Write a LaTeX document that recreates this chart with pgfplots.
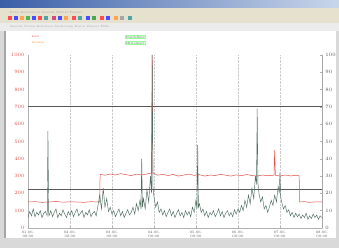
\documentclass[border=0pt]{standalone}
\usepackage{pgfplots}
\pgfplotsset{compat=1.18}
\definecolor{tbar}{HTML}{3A5FA8}
\definecolor{tbarl}{HTML}{C8D6EA}
\definecolor{menu}{HTML}{E6E0CF}
\definecolor{redser}{HTML}{E2504A}
\definecolor{grnser}{HTML}{4F6E60}
\definecolor{thr}{HTML}{5A5A5A}
\begin{document}
\begin{tikzpicture}[x=1pt,y=1pt]
% window
\fill[gray!30] (0,0) rectangle (339,248);
\fill[white] (6,10) rectangle (336,217);
\draw[gray!70,line width=1.2pt] (5,10) -- (5,217);
\shade[left color=tbar,right color=tbarl] (0,240) rectangle (339,248);
\fill[menu] (0,225) rectangle (339,240);
\fill[gray!15] (0,217) rectangle (339,225);
\foreach \i/\c in {8/red,14/blue,20/orange,26/green!60!black,32/blue,38/red,44/teal,52/purple,58/blue,64/orange,72/red,78/teal,86/blue,92/green!50!black,100/red,106/blue,114/orange,120/gray,128/teal}{
  \fill[\c!70] (\i,228) rectangle (\i+4,232);}
\node[font=\fontsize{3}{3}\selectfont,text=gray!70,anchor=west] at (6,221) {Ansicht  Daten  Zeitraum  Skalierung  Kurve  Export  Hilfe};
\node[font=\fontsize{3}{3}\selectfont,text=gray!70,anchor=west] at (6,236) {Datei  Bearbeiten  Ansicht  Extras  Fenster};
% legend texts
\node[font=\fontsize{3}{3}\selectfont,text=redser,anchor=west] at (28,211) {Last};
\node[font=\fontsize{3}{3}\selectfont,text=orange,anchor=west] at (28,206) {Grenze};
\node[font=\fontsize{3}{3}\selectfont,text=grnser,fill=green!8,draw=green!40,inner sep=0.6pt,anchor=west] at (125,211) {Durchfluss};
\node[font=\fontsize{3}{3}\selectfont,text=grnser,fill=green!8,draw=green!40,inner sep=0.6pt,anchor=west] at (125,205) {Mittelwert};
\begin{axis}[
  at={(28pt,20pt)}, anchor=south west, scale only axis,
  width=294pt, height=173pt,
  xmin=0, xmax=168, ymin=0, ymax=1000,
  axis y line*=left, axis x line*=bottom,
  xtick={0,24,...,168},
  xticklabels={{01.06.\\00:00},{02.06.\\00:00},{03.06.\\00:00},{04.06.\\00:00},{05.06.\\00:00},{06.06.\\00:00},{07.06.\\00:00},{08.06.\\00:00}},
  xticklabel style={font=\fontsize{3.5}{3.8}\selectfont,align=center,text=gray!70!black},
  ytick={0,100,...,1000},
  yticklabel style={font=\fontsize{3.5}{3.5}\selectfont,text=redser,/pgf/number format/1000 sep={}},
  xmajorgrids, grid style={densely dotted,gray!40,line width=0.3pt},
  axis line style={gray!60,line width=0.5pt},
  tick style={gray!60,line width=0.3pt}, major tick length=1.5pt,
  clip=true,
]
% thresholds
\addplot[thr,line width=1pt] coordinates {(0,700) (168,700)};
\addplot[thr,line width=0.8pt] coordinates {(0,225) (168,225)};
% red series
\addplot[redser,line width=0.5pt] coordinates {
(0,150) (4,152) (8,148) (12,150) (16,153) (20,149) (24,151) (28,150) (32,148) (36,152) (40,150) (41,150)
(41.2,310) (44,305) (47,312) (50,306) (53,314) (56,308) (59,303) (62,311) (65,306) (68,312) (70.6,318)
(71,1000) (71.4,318) (74,305) (77,310) (80,303) (83,309) (86,300) (89,306) (92,311) (95,304) (98,308)
(101,300) (104,306) (107,303) (110,310) (113,305) (116,300) (119,307) (122,302) (125,309) (128,303)
(131,300) (134,306) (137,302) (140.6,305) (141,450) (141.4,305) (144,300) (147,306) (150,301) (153,304) (155,302)
(155.2,150) (158,152) (161,148) (164,151) (168,150)};
% green series
\addplot[grnser,line width=0.45pt] coordinates {
(0,60) (1,95) (2,70) (3,110) (4,65) (5,90) (6,75) (7,100) (8,60) (9,85) (10,95) (11,70) (11.4,560) (11.8,90)
(12,70) (13,100) (14,65) (15,90) (16,110) (17,60) (18,85) (19,70) (20,105) (21,80) (22,60) (23,95) (24,75)
(25,100) (26,65) (27,90) (28,110) (29,70) (30,85) (31,100) (32,60) (33,90) (34,75) (35,105) (36,65) (37,85)
(38,95) (39,70) (40,130) (41,190) (42,110) (43,230) (44,120) (45,170) (46,95) (47,120) (48,80) (49,100)
(50,65) (51,90) (52,110) (53,70) (54,95) (55,60) (56,85) (57,105) (58,75) (59,90) (60,120) (61,80) (62,140)
(63,100) (64,160) (64.6,110) (65,400) (65.4,120) (66,170) (67,110) (68,220) (69,150) (70,300) (70.6,200)
(71,1000) (71.4,240) (72,180) (73,120) (74,150) (75,90) (76,110) (77,75) (78,100) (79,65) (80,90) (81,110)
(82,70) (83,95) (84,60) (85,85) (86,105) (87,70) (88,90) (89,60) (90,100) (91,75) (92,95) (93,65) (94,120)
(95,90) (96,160) (96.6,110) (97,480) (97.4,120) (98,140) (99,90) (100,110) (101,70) (102,95) (103,60)
(104,90) (105,75) (106,100) (107,65) (108,85) (109,110) (110,70) (111,95) (112,60) (113,85) (114,100)
(115,70) (116,90) (117,65) (118,105) (119,80) (120,110) (121,90) (122,130) (123,100) (124,160) (125,120)
(126,190) (127,140) (128,230) (129,170) (130,300) (130.6,250) (131,690) (131.4,260) (132,200) (133,150)
(134,180) (135,110) (136,130) (137,90) (138,120) (139,160) (140,130) (141,190) (142,150) (143,240)
(143.6,200) (144,320) (144.4,180) (145,150) (146,110) (147,130) (148,90) (149,105) (150,70) (151,90)
(152,60) (153,85) (154,65) (155,80) (156,55) (157,75) (158,60) (159,85) (160,50) (161,70) (162,55)
(163,80) (164,60) (165,75) (166,50) (167,70) (168,60)};
\end{axis}
\begin{axis}[
  at={(28pt,20pt)}, anchor=south west, scale only axis,
  width=294pt, height=173pt,
  xmin=0, xmax=168, ymin=0, ymax=100,
  axis y line*=right, axis x line=none,
  ytick={0,10,...,100},
  yticklabel style={font=\fontsize{3.5}{3.5}\selectfont,text=gray!70!black},
  axis line style={gray!70,line width=0.6pt},
  tick style={gray!60,line width=0.3pt}, major tick length=1.5pt,
]
\end{axis}
\end{tikzpicture}
\end{document}
